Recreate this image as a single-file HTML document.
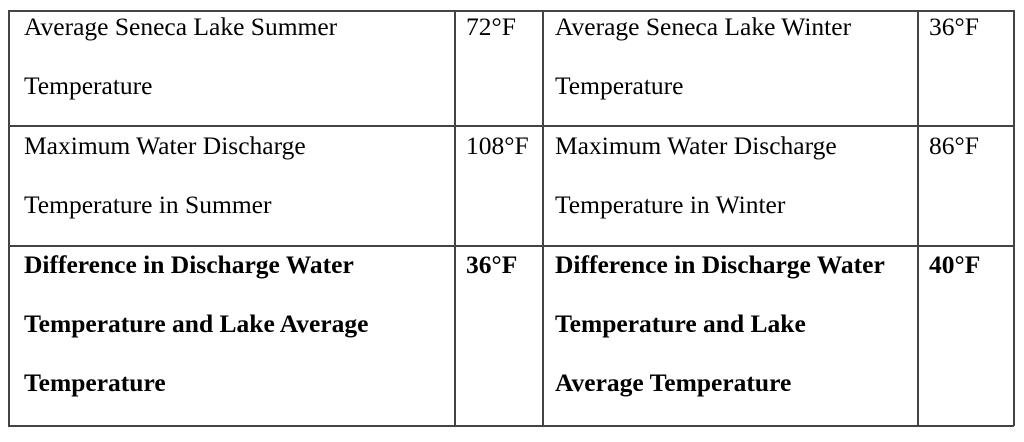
<!DOCTYPE html>
<html><head><style>
body{margin:0;width:1024px;height:442px;background:#fff;position:relative;font-family:"Liberation Serif",serif;font-size:25.5px;color:#000;overflow:hidden}
.h{position:absolute;height:1.5px;background:#444;left:8px;width:1006px}
.v{position:absolute;width:1.5px;background:#444;top:10px;height:416px}
.t{position:absolute;line-height:59px;white-space:nowrap}
.b{font-weight:bold}
</style></head><body>
<div class="h" style="top:10px"></div>
<div class="h" style="top:125px"></div>
<div class="h" style="top:245px"></div>
<div class="h" style="top:425px"></div>
<div class="v" style="left:8px"></div>
<div class="v" style="left:454px"></div>
<div class="v" style="left:542px"></div>
<div class="v" style="left:917px"></div>
<div class="v" style="left:1013px"></div>

<div class="t" style="left:24px;top:-3px">Average Seneca Lake Summer<br>Temperature</div>
<div class="t" style="left:466px;top:-3px">72°F</div>
<div class="t" style="left:555px;top:-3px">Average Seneca Lake Winter<br>Temperature</div>
<div class="t" style="left:929px;top:-3px">36°F</div>

<div class="t" style="left:24px;top:116px">Maximum Water Discharge<br>Temperature in Summer</div>
<div class="t" style="left:466px;top:116px">108°F</div>
<div class="t" style="left:555px;top:116px">Maximum Water Discharge<br>Temperature in Winter</div>
<div class="t" style="left:929px;top:116px">86°F</div>

<div class="t b" style="left:24px;top:235px">Difference in Discharge Water<br>Temperature and Lake Average<br>Temperature</div>
<div class="t b" style="left:466px;top:235px">36°F</div>
<div class="t b" style="left:555px;top:235px">Difference in Discharge Water<br>Temperature and Lake<br>Average Temperature</div>
<div class="t b" style="left:929px;top:235px">40°F</div>
</body></html>
